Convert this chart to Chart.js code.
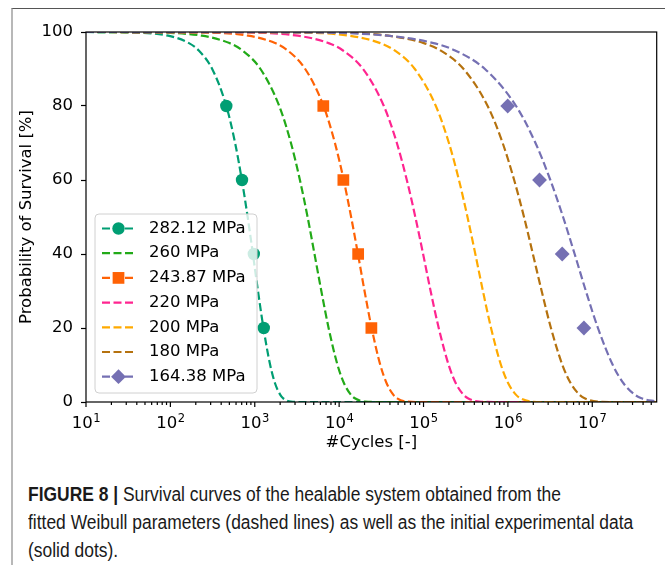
<!DOCTYPE html>
<html>
<head>
<meta charset="utf-8">
<script src="https://cdn.jsdelivr.net/npm/chart.js@4.4.0/dist/chart.umd.min.js"></script>
<style>
  html, body { margin: 0; padding: 0; background: #fff; }
  #page { position: relative; width: 665px; height: 565px; overflow: hidden; }
  #frame { position: absolute; left: 11px; top: 8px; right: -10px; bottom: -10px;
           border-left: 2px solid #b8b8b8; border-top: 1px solid #555; }
  #chart { position: absolute; left: 0; top: 0; }
  #caption { position: absolute; left: 28px; top: 480px; width: 720px;
             font-family: 'Liberation Sans', Arial, sans-serif;
             font-size: 19.5px; line-height: 28px; color: #1a1a1a;
             transform: scaleX(0.894); transform-origin: left top; white-space: nowrap; }
</style>
</head>
<body>
<div id="page">
  <div id="frame"></div>
  <canvas id="chart" width="665" height="460"></canvas>
  <div id="caption"><b>FIGURE 8 |</b> Survival curves of the healable system obtained from the<br>fitted Weibull parameters (dashed lines) as well as the initial experimental data<br>(solid dots).</div>
</div>
<script>
// x range of the plot (cycles)
const cycleLimits = [10, 5.8e7];

// survival levels [%] at which the fitted curves were read
const survivalLevels = [100, 99.9, 99, 97, 95, 90, 80, 70, 60, 50, 40, 30, 20, 10, 5, 2, 1, 0.1, 0, 0];

const curveLabels = ['282.12 MPa', '260 MPa', '243.87 MPa', '220 MPa', '200 MPa', '180 MPa', '164.38 MPa'];

// cycles for each fitted curve, one per survival level
const cycles282 = [10, 28.8, 94, 166, 217, 313, 460, 585, 703, 824, 951, 1092, 1268, 1523, 1742, 1999, 2174, 2675, 3490, 5.8e7];
const cycles260 = [10, 48.9, 236, 501, 716, 1169, 1950, 2685, 3428, 4227, 5105, 6150, 7499, 9572, 11455, 13740, 15350, 20230, 28840, 5.8e7];
const cycles244 = [10, 180, 834, 1738, 2460, 3963, 6531, 8913, 11320, 13870, 16710, 20000, 24270, 30760, 36640, 43750, 48750, 63830, 90160, 5.8e7];
const cycles220 = [10, 565, 3236, 7499, 11120, 19190, 33880, 48310, 63390, 79980, 98860, 121300, 151400, 198600, 242100, 296500, 335700, 456000, 676100, 5.8e7];
const cycles200 = [10, 2275, 13180, 30690, 45600, 78890, 140000, 200000, 263000, 331900, 411100, 505800, 631000, 827900, 1012000, 1242000, 1406000, 1914000, 2844000, 5.8e7];
const cycles180 = [10, 5105, 38280, 100900, 159200, 298500, 575400, 866700, 1186000, 1552000, 1977000, 2512000, 3236000, 4426000, 5572000, 7031000, 8110000, 11560000, 18200000, 5.8e7];
const cycles164 = [10, 2773, 37580, 131500, 237100, 534600, 1250000, 2123000, 3184000, 4508000, 6180000, 8395000, 11670000, 17500000, 23550000, 31840000, 38280000, 5.8e7];

// experimental points
const expLevels = [80, 60, 40, 20];
const exp282 = [460, 706, 975, 1279];
const exp244 = [6490, 11220, 16800, 24100];
const exp164 = [995000, 2370000, 4400000, 7960000];

// x tick labels: base and exponent
const majorTicks = [10, 100, 1e3, 1e4, 1e5, 1e6, 1e7];
const majorBase = '10';
const majorExponents = ['1', '2', '3', '4', '5', '6', '7'];
const yTicks = [0, 20, 40, 60, 80, 100];

// styles
const curveColors = ['#009e73', '#22aa18', '#ff6205', '#ff2590', '#ffaa00', '#b5720f', '#7570b3'];
const markerStyles = ['circle', null, 'rect', null, null, null, 'rectRot'];
const markerSizes = [6.2, 0, 8.3, 0, 0, 0, 7.4];
const dash = [8, 3.5];
const fontSize = 16.5;

const curveCycles = [cycles282, cycles260, cycles244, cycles220, cycles200, cycles180, cycles164];
const expCycles = [exp282, null, exp244, null, null, null, exp164];

const datasets = [];
curveCycles.forEach((cyc, i) => {
  datasets.push({
    label: curveLabels[i],
    data: cyc.map((c, j) => ({ x: c, y: survivalLevels[j] })),
    showLine: true,
    borderColor: curveColors[i],
    borderWidth: 2.2,
    borderDash: dash,
    pointRadius: 0,
    fill: false,
    cubicInterpolationMode: 'monotone',
    order: 20 - i
  });
});
expCycles.forEach((cyc, i) => {
  if (!cyc) return;
  datasets.push({
    label: curveLabels[i] + ' data',
    data: cyc.map((c, j) => ({ x: c, y: expLevels[j] })),
    showLine: false,
    pointStyle: markerStyles[i],
    pointRadius: markerSizes[i],
    backgroundColor: curveColors[i],
    borderWidth: 0,
    order: 0
  });
});

const boxLegend = {
  id: 'boxLegend',
  afterDatasetsDraw(chart) {
    const { ctx, chartArea: a } = chart;
    const bx = a.left + 9, by = a.bottom - 188, bw = 162, bh = 179;
    ctx.save();
    ctx.beginPath();
    ctx.roundRect(bx, by, bw, bh, 4);
    ctx.fillStyle = 'rgba(255,255,255,0.8)';
    ctx.fill();
    ctx.strokeStyle = '#d0d0d0';
    ctx.lineWidth = 1;
    ctx.stroke();
    curveLabels.forEach((label, i) => {
      const ry = by + 14.5 + i * 24.7;
      ctx.strokeStyle = curveColors[i];
      ctx.lineWidth = 2.2;
      ctx.setLineDash(dash);
      ctx.beginPath();
      ctx.moveTo(bx + 7, ry);
      ctx.lineTo(bx + 40, ry);
      ctx.stroke();
      ctx.setLineDash([]);
      if (markerStyles[i]) {
        ctx.fillStyle = curveColors[i];
        Chart.helpers.drawPoint(ctx, { pointStyle: markerStyles[i], radius: markerSizes[i], rotation: 0, borderWidth: 0 }, bx + 23.5, ry);
      }
      ctx.fillStyle = '#000';
      ctx.font = fontSize + 'px "DejaVu Sans"';
      ctx.textBaseline = 'middle';
      ctx.textAlign = 'left';
      ctx.fillText(label, bx + 54, ry);
    });
    ctx.restore();
  }
};

const axesFrame = {
  id: 'axesFrame',
  afterDraw(chart) {
    const { ctx, chartArea: a } = chart;
    const x = chart.scales.x;
    ctx.save();
    ctx.strokeStyle = '#000';
    ctx.lineWidth = 1.2;
    ctx.strokeRect(a.left, a.top, a.right - a.left, a.bottom - a.top);
    x.ticks.forEach(t => {
      const px = x.getPixelForValue(t.value);
      const len = majorTicks.includes(t.value) ? 5 : 3;
      ctx.beginPath();
      ctx.moveTo(px, a.bottom);
      ctx.lineTo(px, a.bottom + len);
      ctx.stroke();
    });
    // power-of-ten labels with raised exponent
    ctx.fillStyle = '#000';
    ctx.textBaseline = 'alphabetic';
    ctx.textAlign = 'left';
    majorTicks.forEach((v, i) => {
      const px = x.getPixelForValue(v);
      ctx.font = fontSize + 'px "DejaVu Sans"';
      const wb = ctx.measureText(majorBase).width;
      ctx.font = (fontSize * 0.7) + 'px "DejaVu Sans"';
      const we = ctx.measureText(majorExponents[i]).width;
      const start = px - (wb + we) / 2;
      ctx.font = fontSize + 'px "DejaVu Sans"';
      ctx.fillText(majorBase, start, a.bottom + 26);
      ctx.font = (fontSize * 0.7) + 'px "DejaVu Sans"';
      ctx.fillText(majorExponents[i], start + wb + 0.5, a.bottom + 19.5);
    });
    ctx.restore();
  }
};

Chart.defaults.font.family = '"DejaVu Sans"';
Chart.defaults.font.size = fontSize;
Chart.defaults.color = '#000';

new Chart(document.getElementById('chart'), {
  type: 'scatter',
  data: { datasets: datasets },
  options: {
    responsive: false,
    animation: false,
    events: [],
    layout: { padding: { left: 0, right: 8, top: 32, bottom: 7.4 } },
    plugins: { legend: { display: false }, tooltip: { enabled: false } },
    scales: {
      x: {
        type: 'logarithmic',
        min: cycleLimits[0],
        max: cycleLimits[1],
        afterBuildTicks(scale) {
          const t = [];
          majorTicks.forEach(m => {
            for (let k = 1; k <= 9; k++) {
              if (m * k <= scale.max) t.push({ value: m * k });
            }
          });
          scale.ticks = t;
        },
        ticks: { autoSkip: false, maxRotation: 0, minRotation: 0, padding: 8, callback() { return ''; } },
        grid: { display: false, drawTicks: false },
        border: { display: false },
        title: { display: true, text: '#Cycles [-]', color: '#000', padding: { top: 0, bottom: 0 } },
        afterFit(scale) { scale.height = 50.6; }
      },
      y: {
        min: 0,
        max: 100,
        afterBuildTicks(scale) { scale.ticks = yTicks.map(v => ({ value: v })); },
        ticks: { padding: 8, color: '#000' },
        grid: { drawOnChartArea: false, tickLength: 5, color: '#000', tickColor: '#000', tickWidth: 1.2 },
        border: { display: false },
        title: { display: true, text: 'Probability of Survival [%]', color: '#000', padding: { top: 17, bottom: 0 } },
        afterFit(scale) { scale.width = 86; }
      }
    }
  },
  plugins: [boxLegend, axesFrame]
});
</script>
</body>
</html>
